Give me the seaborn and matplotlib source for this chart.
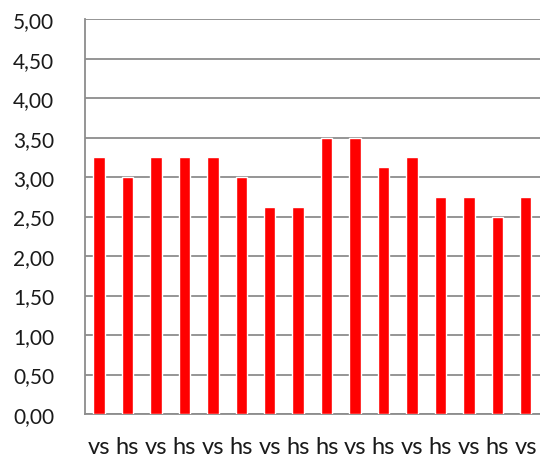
import numpy as np
import pandas as pd
import matplotlib
matplotlib.use("Agg")
import matplotlib.pyplot as plt
import seaborn as sns

# ---------------------------------------------------------------------------
# Data
# ---------------------------------------------------------------------------

labels = ["vs", "hs", "vs", "hs", "vs", "hs", "vs", "hs",
          "hs", "vs", "hs", "vs", "hs", "vs", "hs", "vs"]
values = [3.25, 3.00, 3.25, 3.25, 3.25, 3.00, 2.625, 2.625,
          3.50, 3.50, 3.125, 3.25, 2.75, 2.75, 2.50, 2.75]
yticks = [0.0, 0.5, 1.0, 1.5, 2.0, 2.5, 3.0, 3.5, 4.0, 4.5, 5.0]

df = pd.DataFrame({"pos": [str(i) for i in range(len(values))], "value": values})

# ---------------------------------------------------------------------------
# Plot
# ---------------------------------------------------------------------------

sns.set_style("white")
plt.rcParams["font.family"] = ["Lato", "DejaVu Sans"]

fig = plt.figure(figsize=(5.4, 4.64), dpi=100)
ax = fig.add_axes([0.157, 0.1056, 0.843, 0.851])

sns.barplot(data=df, x="pos", y="value", color="#ff0000", saturation=1,
            width=0.4, ax=ax, zorder=3)

grid_col = "#8c8c8c"
ax.set_ylim(0, 5)
ax.set_yticks(yticks)
ax.set_yticklabels([f"{t:.2f}".replace(".", ",") for t in yticks], fontsize=15,
                   color="#1a1a1a")
ax.yaxis.grid(True, color=grid_col, linewidth=1.3, zorder=0)
ax.set_axisbelow(True)

ax.set_xlim(-0.5, len(values) - 0.5)
ax.set_xticks(range(len(values)))
ax.set_xticklabels(labels, fontsize=17, color="#1a1a1a")
ax.set_xticks(np.arange(-0.5, len(values), 1), minor=True)
ax.tick_params(axis="x", which="major", length=0, pad=16)
ax.tick_params(axis="x", which="minor", length=6, color=grid_col, width=1.3,
               direction="out")
ax.tick_params(axis="y", length=6, color=grid_col, width=1.3, direction="out", pad=16)

ax.set_xlabel("")
ax.set_ylabel("")
for side in ["top", "right"]:
    ax.spines[side].set_visible(False)
for side in ["left", "bottom"]:
    ax.spines[side].set_color(grid_col)
    ax.spines[side].set_linewidth(1.3)

fig.savefig("out.png", dpi=100)
plt.close(fig)
